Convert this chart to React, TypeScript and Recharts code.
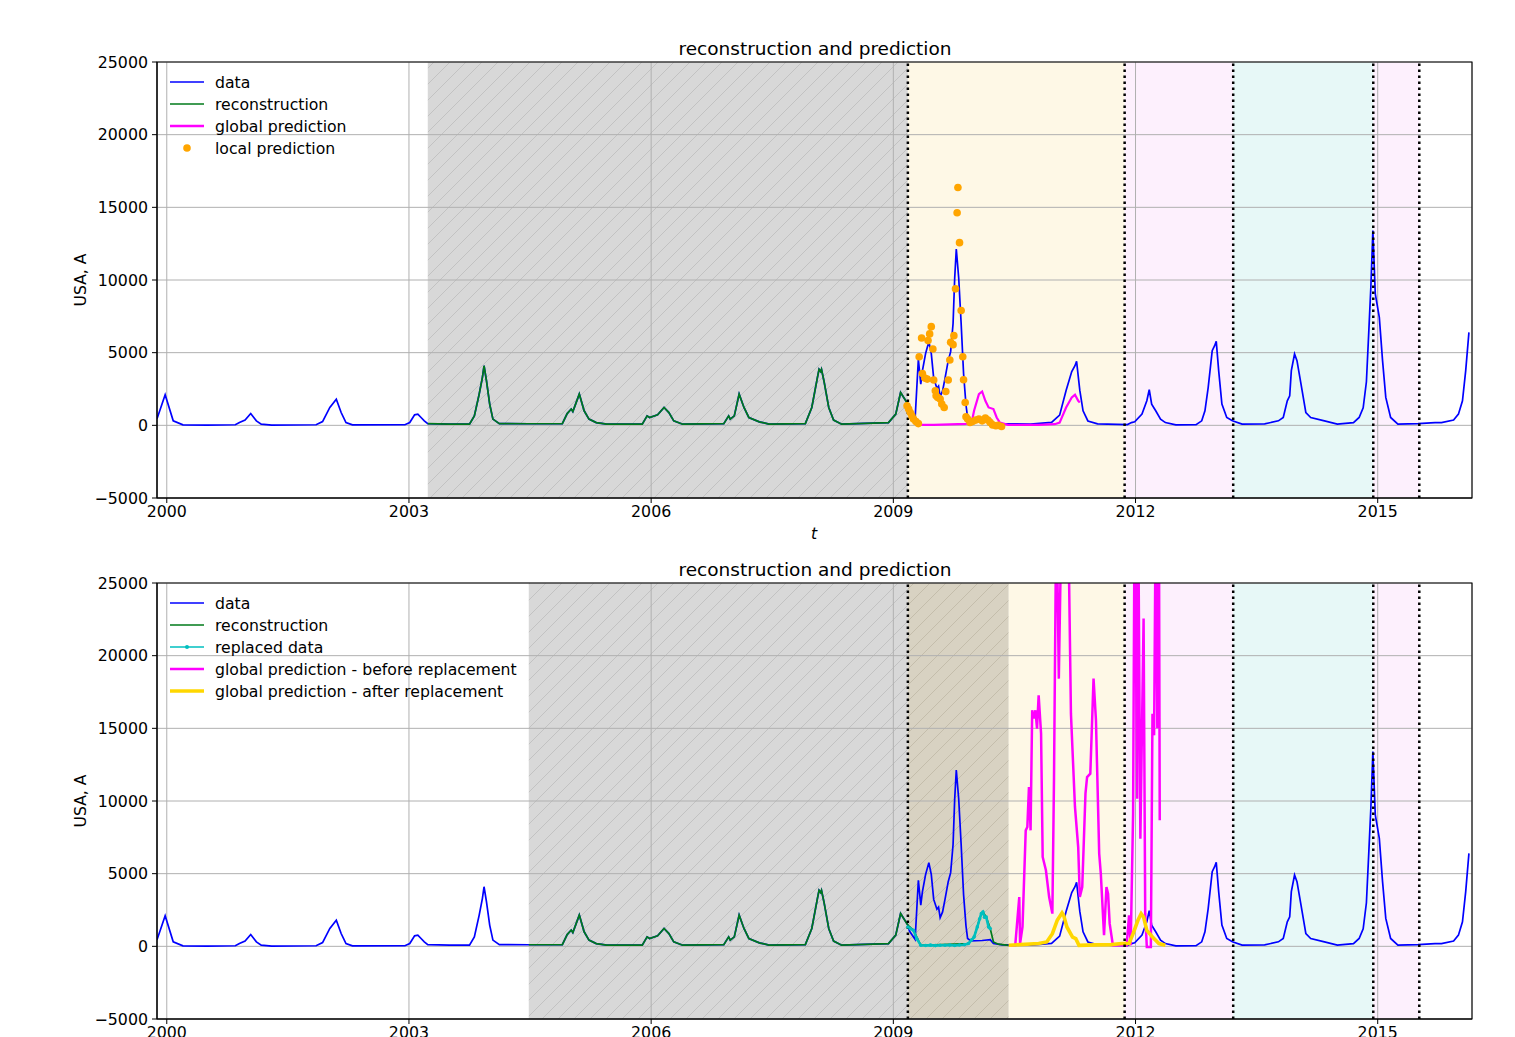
import React from 'react';
import { ComposedChart, Line, XAxis, YAxis, CartesianGrid, ReferenceArea, ReferenceLine } from 'recharts';

type P = [number, number];

const FONT = '"DejaVu Sans", sans-serif';
const X_TICKS = [2000, 2003, 2006, 2009, 2012, 2015];
const Y_TICKS = [-5000, 0, 5000, 10000, 15000, 20000, 25000];
const X_DOMAIN: [number, number] = [1999.879, 2016.168];
const Y_DOMAIN: [number, number] = [-5000, 25000];

// vertical dotted separators (years)
const SPLITS = [2009.18, 2011.865, 2013.21, 2014.945, 2015.515];
const TOP_GRAY: [number, number] = [2003.233, 2009.18];
const BOTTOM_GRAY: [number, number] = [2004.484, 2009.18];
const BOTTOM_REPLACED: [number, number] = [2009.18, 2010.43];

// observed data (blue)
const dataSeries: P[] = [
  [1999.879, 450], [1999.98, 2100], [2000.08, 310], [2000.2, 30], [2000.5, 20], [2000.85, 40], [2000.9, 200],
  [2000.97, 360], [2001.04, 810], [2001.11, 310], [2001.17, 80], [2001.3, 20], [2001.85, 40], [2001.93, 260],
  [2002.02, 1230], [2002.1, 1800], [2002.16, 880], [2002.22, 190], [2002.3, 30], [2002.95, 40], [2003.01, 190],
  [2003.07, 720], [2003.11, 770], [2003.15, 540], [2003.19, 310], [2003.233, 120], [2003.5, 80], [2003.75, 80],
  [2003.81, 650], [2003.87, 2150], [2003.91, 3300], [2003.93, 4100], [2003.96, 3070], [2004.0, 1460], [2004.04, 430],
  [2004.12, 120], [2004.484, 110], [2004.9, 120], [2004.96, 810], [2005.01, 1120], [2005.03, 950], [2005.11, 2150],
  [2005.17, 1000], [2005.23, 430], [2005.32, 190], [2005.45, 80], [2005.89, 80], [2005.95, 650], [2005.98, 540],
  [2006.08, 720], [2006.16, 1230], [2006.22, 880], [2006.28, 310], [2006.39, 80], [2006.9, 120], [2006.96, 650],
  [2006.98, 430], [2007.03, 650], [2007.09, 2150], [2007.15, 1230], [2007.21, 540], [2007.34, 240], [2007.46, 80],
  [2007.91, 120], [2007.99, 1230], [2008.06, 3300], [2008.08, 3850], [2008.1, 3700], [2008.11, 3850], [2008.14, 3070],
  [2008.2, 1230], [2008.26, 360], [2008.36, 80], [2008.94, 190], [2009.03, 770], [2009.09, 2260], [2009.18, 1460],
  [2009.2, 1050], [2009.27, 480], [2009.31, 4550], [2009.34, 2830], [2009.36, 3750], [2009.4, 4950], [2009.44, 5750],
  [2009.47, 4950], [2009.5, 3230], [2009.54, 2550], [2009.56, 2700], [2009.58, 1970], [2009.61, 2370], [2009.64, 3230],
  [2009.68, 4450], [2009.71, 5070], [2009.74, 7010], [2009.76, 10120], [2009.78, 12130], [2009.81, 10120],
  [2009.84, 7010], [2009.87, 3570], [2009.9, 1400], [2009.92, 540], [2009.96, 370], [2010.1, 400], [2010.2, 460],
  [2010.24, 190], [2010.35, 100], [2010.7, 90], [2010.96, 200], [2011.06, 700], [2011.14, 2400], [2011.21, 3700],
  [2011.25, 4100], [2011.27, 4400], [2011.31, 2400], [2011.35, 1000], [2011.41, 300], [2011.53, 100], [2011.9, 50],
  [2011.95, 190], [2011.99, 240], [2012.08, 770], [2012.14, 1690], [2012.17, 2450], [2012.2, 1460], [2012.25, 1000],
  [2012.31, 430], [2012.37, 190], [2012.5, 30], [2012.75, 40], [2012.82, 310], [2012.86, 1000], [2012.9, 2600],
  [2012.95, 5140], [2012.98, 5480], [2013.0, 5780], [2013.03, 3760], [2013.07, 1460], [2013.13, 540], [2013.2, 310],
  [2013.32, 80], [2013.6, 100], [2013.77, 310], [2013.83, 540], [2013.88, 1690], [2013.91, 2030], [2013.93, 3760],
  [2013.97, 4910], [2014.0, 4450], [2014.05, 2840], [2014.11, 880], [2014.17, 540], [2014.34, 310], [2014.5, 80],
  [2014.7, 190], [2014.77, 540], [2014.82, 1210], [2014.86, 3000], [2014.89, 6500], [2014.915, 9500], [2014.94, 13410],
  [2014.97, 9050], [2015.02, 7430], [2015.06, 4450], [2015.1, 1920], [2015.16, 540], [2015.25, 80], [2015.5, 120],
  [2015.71, 190], [2015.79, 190], [2015.94, 360], [2016.0, 770], [2016.05, 1690], [2016.09, 3760], [2016.13, 6400],
];

// reconstruction of the replaced 2009 season (bottom panel, mostly hidden under cyan)
const reconReplaced: P[] = [
  [2009.25, 1100], [2009.34, 70], [2009.93, 190], [2010.0, 640], [2010.09, 2250], [2010.11, 2360], [2010.15, 2020],
  [2010.2, 1220], [2010.24, 300], [2010.3, 150], [2010.43, 70],
];

// replaced data (cyan)
const replacedData: P[] = [
  [2009.18, 1330], [2009.21, 1220], [2009.25, 1100], [2009.29, 530], [2009.34, 70], [2009.4, 60], [2009.46, 80],
  [2009.52, 50], [2009.58, 70], [2009.64, 70], [2009.7, 90], [2009.76, 60], [2009.82, 90], [2009.88, 110],
  [2009.93, 190], [2009.97, 450], [2010.0, 640], [2010.04, 1330], [2010.07, 1900], [2010.09, 2250], [2010.11, 2360],
  [2010.13, 2000], [2010.15, 2020], [2010.18, 1330], [2010.2, 1220],
];

// global prediction (top panel, magenta)
const globalPredTop: P[] = [
  [2009.19, 1000], [2009.23, 650], [2009.3, 30], [2009.5, 30], [2009.7, 60], [2009.9, 100], [2009.97, 190],
  [2010.0, 1000], [2010.06, 2150], [2010.1, 2330], [2010.14, 1690], [2010.18, 1230], [2010.24, 1120], [2010.28, 540],
  [2010.32, 190], [2010.42, 30], [2010.8, 30], [2011.0, 80], [2011.06, 190], [2011.14, 1230], [2011.21, 1920],
  [2011.25, 2100], [2011.29, 1690], [2011.31, 1570],
];

// local prediction (top panel, orange dots)
const localPred: P[] = [
  [2009.17, 1340], [2009.19, 1120], [2009.21, 880], [2009.23, 650], [2009.25, 430], [2009.28, 260], [2009.31, 120],
  [2009.32, 4720], [2009.35, 6010], [2009.36, 3570], [2009.39, 3250], [2009.42, 3180], [2009.43, 5830],
  [2009.45, 6290], [2009.47, 6790], [2009.49, 5250], [2009.5, 3120], [2009.52, 2380], [2009.53, 2030],
  [2009.55, 1920], [2009.58, 1810], [2009.6, 1460], [2009.63, 1230], [2009.65, 2330], [2009.68, 3120],
  [2009.7, 4500], [2009.71, 5710], [2009.74, 5550], [2009.75, 6170], [2009.77, 9390], [2009.79, 14630],
  [2009.8, 16360], [2009.82, 12570], [2009.84, 7900], [2009.86, 4720], [2009.87, 3140], [2009.89, 1570],
  [2009.9, 590], [2009.92, 430], [2009.95, 190], [2009.98, 260], [2010.02, 360], [2010.06, 430], [2010.1, 310],
  [2010.14, 500], [2010.17, 360], [2010.2, 190], [2010.23, 30], [2010.27, -30], [2010.3, 0], [2010.34, -80],
];

// global prediction before replacement (bottom panel, magenta)
const globalBefore: P[] = [
  [2010.43, 70], [2010.51, 70], [2010.56, 3390], [2010.57, 190], [2010.6, 1330], [2010.64, 7980], [2010.66, 8210],
  [2010.68, 10960], [2010.7, 7980], [2010.72, 16240], [2010.74, 15670], [2010.76, 16240], [2010.78, 14980],
  [2010.8, 17270], [2010.83, 14640], [2010.85, 6150], [2010.89, 5230], [2010.93, 3390], [2010.97, 2250],
  [2010.99, 11420], [2011.02, 31000], [2011.05, 18420], [2011.09, 32000], [2011.16, 32000], [2011.2, 16010],
  [2011.25, 9590], [2011.29, 6830], [2011.31, 3390], [2011.34, 4080], [2011.38, 10510], [2011.4, 11650],
  [2011.44, 11880], [2011.48, 18420], [2011.51, 15550], [2011.55, 6380], [2011.57, 5000], [2011.61, 760],
  [2011.64, 4080], [2011.66, 3630], [2011.68, 1560], [2011.72, 70], [2011.8, 100], [2011.89, 70], [2011.92, 2130],
  [2011.94, 70], [2011.97, 9130], [2011.99, 32000], [2012.02, 10160], [2012.03, 33000], [2012.06, 7410],
  [2012.1, 22550], [2012.12, 2250], [2012.14, -50], [2012.19, -50], [2012.21, 16010], [2012.23, 14520],
  [2012.25, 30000], [2012.27, 15000], [2012.29, 30000], [2012.3, 8670],
];

// global prediction after replacement (bottom panel, gold)
const globalAfter: P[] = [
  [2010.43, 70], [2010.8, 190], [2010.9, 300], [2010.97, 870], [2011.03, 1790], [2011.09, 2300], [2011.11, 2130],
  [2011.15, 1330], [2011.22, 640], [2011.26, 530], [2011.3, 70], [2011.5, 100], [2011.7, 120], [2011.83, 190],
  [2011.92, 190], [2011.97, 870], [2012.03, 1790], [2012.07, 2250], [2012.1, 2020], [2012.14, 1100],
  [2012.21, 640], [2012.29, 190], [2012.37, 70],
];

const toObj = (arr: P[]) => arr.map(([t, v]) => ({ t, v }));
const dataObj = toObj(dataSeries);
const reconTop = dataObj.filter((d) => d.t >= TOP_GRAY[0] && d.t <= TOP_GRAY[1]);
const reconBottom = [
  ...dataObj.filter((d) => d.t >= BOTTOM_GRAY[0] && d.t <= BOTTOM_GRAY[1]),
  ...toObj(reconReplaced),
];

const C = {
  blue: '#0000ff',
  green: '#007a1a',
  magenta: '#ff00ff',
  orange: '#ffa500',
  cyan: '#00bfbf',
  gold: '#ffd700',
  gray: '#d8d8d8',
  grayHatch: '#c2c2c2',
  brown: '#d8d2c2',
  brownHatch: '#c4bdab',
  yellow: '#fef8e6',
  pink: '#fdf0fd',
  aqua: '#e7f8f7',
  grid: '#b0b0b0',
};

const W = 1515;
const CH = 540;
const TICK_FS = 15.8;
const LEG_FS = 15.7;
const TITLE_FS = 18.5;

const fmtY = (v: number) => (v < 0 ? '\u2212' + Math.abs(v) : String(v));

function Panel({ top, variant }: { top: number; variant: 'top' | 'bottom' }) {
  const isTop = variant === 'top';
  const hatchA = `hatchA-${variant}`;
  const hatchB = `hatchB-${variant}`;
  const areas: { x1: number; x2: number; fill: string }[] = isTop
    ? [
        { x1: TOP_GRAY[0], x2: TOP_GRAY[1], fill: `url(#${hatchA})` },
        { x1: SPLITS[0], x2: SPLITS[1], fill: C.yellow },
        { x1: SPLITS[1], x2: SPLITS[2], fill: C.pink },
        { x1: SPLITS[2], x2: SPLITS[3], fill: C.aqua },
        { x1: SPLITS[3], x2: SPLITS[4], fill: C.pink },
      ]
    : [
        { x1: BOTTOM_GRAY[0], x2: BOTTOM_GRAY[1], fill: `url(#${hatchA})` },
        { x1: BOTTOM_REPLACED[0], x2: BOTTOM_REPLACED[1], fill: `url(#${hatchB})` },
        { x1: BOTTOM_REPLACED[1], x2: SPLITS[1], fill: C.yellow },
        { x1: SPLITS[1], x2: SPLITS[2], fill: C.pink },
        { x1: SPLITS[2], x2: SPLITS[3], fill: C.aqua },
        { x1: SPLITS[3], x2: SPLITS[4], fill: C.pink },
      ];
  const tick = { fill: '#000', fontSize: TICK_FS, fontFamily: FONT };
  return (
    <div style={{ position: 'absolute', left: 0, top, width: W, height: CH }}>
      <ComposedChart width={W} height={CH} margin={{ top: 62, right: 43, bottom: 12, left: 97 }}>
        <defs>
          <pattern id={hatchA} patternUnits="userSpaceOnUse" width={16} height={16}>
            <rect width={16} height={16} fill={C.gray} />
            <path d="M-4,4 L4,-4 M0,16 L16,0 M12,20 L20,12" stroke={C.grayHatch} strokeWidth={1} />
          </pattern>
          <pattern id={hatchB} patternUnits="userSpaceOnUse" width={16} height={16}>
            <rect width={16} height={16} fill={C.brown} />
            <path d="M-4,4 L4,-4 M0,16 L16,0 M12,20 L20,12" stroke={C.brownHatch} strokeWidth={1} />
          </pattern>
        </defs>
        <XAxis
          type="number"
          dataKey="t"
          domain={X_DOMAIN}
          ticks={X_TICKS}
          interval={0}
          allowDataOverflow
          height={30}
          tickSize={5}
          tickMargin={3}
          stroke="#000"
          tick={tick}
        />
        <YAxis
          type="number"
          domain={Y_DOMAIN}
          ticks={Y_TICKS}
          interval={0}
          allowDataOverflow
          width={60}
          tickSize={5}
          tickMargin={4}
          stroke="#000"
          tick={tick}
          tickFormatter={fmtY}
        />
        {areas.map((a, i) => (
          <ReferenceArea key={'a' + i} x1={a.x1} x2={a.x2} y1={-5000} y2={25000} fill={a.fill} fillOpacity={1} stroke="none" />
        ))}
        <CartesianGrid stroke={C.grid} strokeWidth={1} zIndex={150} />
        <Line data={dataObj} dataKey="v" stroke={C.blue} strokeWidth={1.7} dot={false} activeDot={false} isAnimationActive={false} />
        <Line data={isTop ? reconTop : reconBottom} dataKey="v" stroke={C.green} strokeWidth={1.7} dot={false} activeDot={false} isAnimationActive={false} />
        {isTop ? (
          <Line data={toObj(globalPredTop)} dataKey="v" stroke={C.magenta} strokeWidth={2.2} dot={false} activeDot={false} isAnimationActive={false} />
        ) : (
          <Line
            data={toObj(replacedData)}
            dataKey="v"
            stroke={C.cyan}
            strokeWidth={2.6}
            dot={{ r: 1.8, fill: C.cyan, stroke: 'none' }}
            activeDot={false}
            isAnimationActive={false}
          />
        )}
        {isTop ? (
          <Line
            data={toObj(localPred)}
            dataKey="v"
            stroke="none"
            strokeWidth={0}
            dot={{ r: 3.8, fill: C.orange, stroke: 'none' }}
            activeDot={false}
            isAnimationActive={false}
          />
        ) : (
          <Line data={toObj(globalBefore)} dataKey="v" stroke={C.magenta} strokeWidth={2.5} dot={false} activeDot={false} isAnimationActive={false} />
        )}
        {!isTop && (
          <Line data={toObj(globalAfter)} dataKey="v" stroke={C.gold} strokeWidth={3.6} dot={false} activeDot={false} isAnimationActive={false} />
        )}
        {SPLITS.map((x, i) => (
          <ReferenceLine key={'s' + i} x={x} stroke="#000" strokeWidth={2.5} strokeDasharray="2.5 3.5" zIndex={450} />
        ))}
        <ReferenceArea x1={X_DOMAIN[0]} x2={X_DOMAIN[1]} y1={-5000} y2={25000} fill="none" stroke="#000" strokeWidth={1.1} zIndex={600} />
      </ComposedChart>
    </div>
  );
}

type LegendItem = { label: string; kind: 'line' | 'dot' | 'linedot'; color: string; width: number };
const legendTop: LegendItem[] = [
  { label: 'data', kind: 'line', color: C.blue, width: 1.7 },
  { label: 'reconstruction', kind: 'line', color: C.green, width: 1.7 },
  { label: 'global prediction', kind: 'line', color: C.magenta, width: 2.5 },
  { label: 'local prediction', kind: 'dot', color: C.orange, width: 0 },
];
const legendBottom: LegendItem[] = [
  { label: 'data', kind: 'line', color: C.blue, width: 1.7 },
  { label: 'reconstruction', kind: 'line', color: C.green, width: 1.7 },
  { label: 'replaced data', kind: 'linedot', color: C.cyan, width: 1.7 },
  { label: 'global prediction - before replacement', kind: 'line', color: C.magenta, width: 2.5 },
  { label: 'global prediction - after replacement', kind: 'line', color: C.gold, width: 3.6 },
];

function LegendBlock({ items, y0 }: { items: LegendItem[]; y0: number }) {
  return (
    <g>
      {items.map((it, i) => {
        const y = y0 + i * 22;
        return (
          <g key={i}>
            {it.kind !== 'dot' && <line x1={170} x2={204} y1={y} y2={y} stroke={it.color} strokeWidth={it.width} />}
            {it.kind === 'dot' && <circle cx={187} cy={y} r={3.8} fill={it.color} />}
            {it.kind === 'linedot' && <circle cx={187} cy={y} r={2} fill={it.color} />}
            <text x={215} y={y} dominantBaseline="central" fontSize={LEG_FS} fontFamily={FONT} fill="#000">
              {it.label}
            </text>
          </g>
        );
      })}
    </g>
  );
}

export default function App() {
  return (
    <div style={{ position: 'absolute', left: 0, top: 0, width: W, height: 1037, overflow: 'hidden', background: '#fff' }}>
      <Panel top={0} variant="top" />
      <Panel top={521} variant="bottom" />
      <svg width={W} height={1037} style={{ position: 'absolute', left: 0, top: 0, pointerEvents: 'none' }}>
        <text x={815} y={48} textAnchor="middle" dominantBaseline="central" fontSize={TITLE_FS} fontFamily={FONT} fill="#000">
          reconstruction and prediction
        </text>
        <text x={815} y={569} textAnchor="middle" dominantBaseline="central" fontSize={TITLE_FS} fontFamily={FONT} fill="#000">
          reconstruction and prediction
        </text>
        <text x={80} y={280} textAnchor="middle" dominantBaseline="central" fontSize={LEG_FS} fontFamily={FONT} fill="#000" transform="rotate(-90 80 280)">
          USA, A
        </text>
        <text x={80} y={801} textAnchor="middle" dominantBaseline="central" fontSize={LEG_FS} fontFamily={FONT} fill="#000" transform="rotate(-90 80 801)">
          USA, A
        </text>
        <text x={814} y={533} textAnchor="middle" dominantBaseline="central" fontSize={LEG_FS} fontStyle="italic" fontFamily={FONT} fill="#000">
          t
        </text>
        <LegendBlock items={legendTop} y0={82} />
        <LegendBlock items={legendBottom} y0={603} />
      </svg>
    </div>
  );
}
